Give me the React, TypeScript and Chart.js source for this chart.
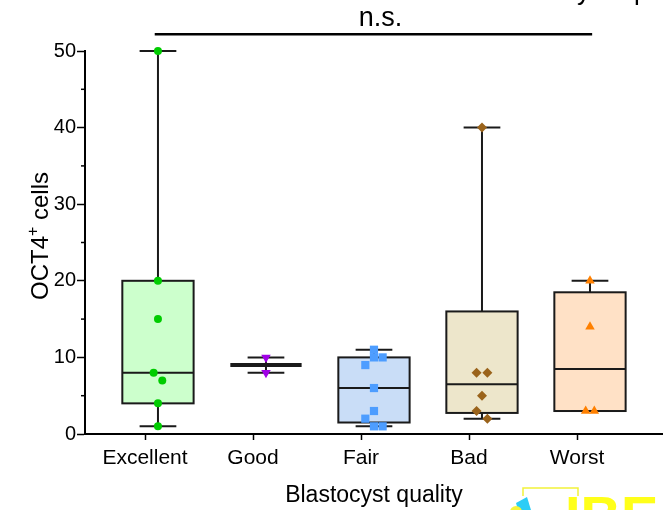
import React, { useEffect, useRef } from 'react';
import { Chart, registerables } from 'chart.js';

Chart.register(...registerables);

// ---------- data ----------
const categories = ['Excellent', 'Good', 'Fair', 'Bad', 'Worst'];

const excellentValues = [50, 20, 15, 8, 7, 4, 1];
const excellentJitter = [0, 0, 0, -0.04, 0.04, 0, 0];

const goodValues = [10, 8];
const goodJitter = [0, 0];

const fairValues = [11, 10, 10, 9, 6, 3, 2, 1, 1];
const fairJitter = [0, 0, 0.08, -0.08, 0, 0, -0.08, 0, 0.08];

const badValues = [40, 8, 8, 5, 3, 2];
const badJitter = [0, -0.05, 0.05, 0, -0.05, 0.05];

const worstValues = [20, 14, 3, 3];
const worstJitter = [0, 0, -0.04, 0.04];

const yTickValues = [0, 10, 20, 30, 40, 50];
const yMinorTickValues = [5, 15, 25, 35, 45];

const significanceLabel = 'n.s.';
const sigBarLevel = 52.2;
const sigTextLevel = 54.3;

// ---------- styling ----------
const FONT = "'Liberation Sans', Arial, sans-serif";
const BOX_OFFSET = 0.12;
const BOX_WIDTH = 0.66;
const CAP_WIDTH = 0.34;

const groups = [
  { values: excellentValues, jitter: excellentJitter, fill: '#ccffcc', color: '#00cc00', style: 'circle', radius: 4, rotation: 0 },
  { values: goodValues, jitter: goodJitter, fill: '#ffffff', color: '#a000e6', style: 'triangle', radius: 5.5, rotation: 180 },
  { values: fairValues, jitter: fairJitter, fill: '#c9ddf7', color: '#4d9dff', style: 'rect', radius: 5.8, rotation: 0 },
  { values: badValues, jitter: badJitter, fill: '#ede6cb', color: '#9a631b', style: 'rectRot', radius: 5, rotation: 0 },
  { values: worstValues, jitter: worstJitter, fill: '#ffe1c6', color: '#ff8000', style: 'triangle', radius: 5.5, rotation: 0 },
];

function quantile(sorted: number[], p: number) {
  const n = sorted.length;
  let pos = (n + 1) * p;
  if (pos < 1) pos = 1;
  if (pos > n) pos = n;
  const lo = Math.floor(pos);
  const frac = pos - lo;
  const a = sorted[lo - 1];
  const b = sorted[Math.min(lo, n - 1)];
  return a + frac * (b - a);
}

function stats(values: number[]) {
  const s = [...values].sort((a, b) => a - b);
  return {
    min: s[0],
    max: s[s.length - 1],
    q1: quantile(s, 0.25),
    median: quantile(s, 0.5),
    q3: quantile(s, 0.75),
    n: s.length,
  };
}

const boxPlugin = {
  id: 'boxPlot',
  beforeDatasetsDraw(chart: any) {
    const { ctx, scales } = chart;
    const x = scales.x;
    const y = scales.y;
    const unit = x.getPixelForValue(1) - x.getPixelForValue(0);
    ctx.save();
    ctx.strokeStyle = '#1a1a1a';
    ctx.lineCap = 'butt';
    groups.forEach((g, i) => {
      const st = stats(g.values);
      const cx = x.getPixelForValue(i + BOX_OFFSET);
      const hw = (BOX_WIDTH / 2) * unit;
      const cw = (CAP_WIDTH / 2) * unit;
      const yMin = y.getPixelForValue(st.min);
      const yMax = y.getPixelForValue(st.max);
      const yQ1 = y.getPixelForValue(st.q1);
      const yQ3 = y.getPixelForValue(st.q3);
      const yMed = y.getPixelForValue(st.median);
      ctx.lineWidth = 2;
      if (st.n >= 3) {
        ctx.fillStyle = g.fill;
        ctx.fillRect(cx - hw, yQ3, 2 * hw, yQ1 - yQ3);
        ctx.strokeRect(cx - hw, yQ3, 2 * hw, yQ1 - yQ3);
        ctx.beginPath();
        ctx.moveTo(cx, yQ3);
        ctx.lineTo(cx, yMax);
        ctx.moveTo(cx, yQ1);
        ctx.lineTo(cx, yMin);
        ctx.moveTo(cx - cw, yMax);
        ctx.lineTo(cx + cw, yMax);
        ctx.moveTo(cx - cw, yMin);
        ctx.lineTo(cx + cw, yMin);
        ctx.moveTo(cx - hw, yMed);
        ctx.lineTo(cx + hw, yMed);
        ctx.stroke();
      } else {
        ctx.beginPath();
        ctx.moveTo(cx, yMax);
        ctx.lineTo(cx, yMin);
        ctx.moveTo(cx - cw, yMax);
        ctx.lineTo(cx + cw, yMax);
        ctx.moveTo(cx - cw, yMin);
        ctx.lineTo(cx + cw, yMin);
        ctx.stroke();
        ctx.lineWidth = 4;
        ctx.beginPath();
        ctx.moveTo(cx - hw, yMed);
        ctx.lineTo(cx + hw, yMed);
        ctx.stroke();
      }
    });
    ctx.restore();
  },
  afterDraw(chart: any) {
    const { ctx, scales } = chart;
    const x = scales.x;
    const y = scales.y;
    ctx.save();
    // minor y ticks
    ctx.strokeStyle = '#000';
    ctx.lineWidth = 1.5;
    yMinorTickValues.forEach((v) => {
      const py = y.getPixelForValue(v);
      ctx.beginPath();
      ctx.moveTo(y.right - 4, py);
      ctx.lineTo(y.right, py);
      ctx.stroke();
    });
    // significance bar
    const barY = y.getPixelForValue(sigBarLevel);
    ctx.lineWidth = 2.5;
    ctx.beginPath();
    ctx.moveTo(x.getPixelForValue(0 + BOX_OFFSET - 0.03), barY);
    ctx.lineTo(x.getPixelForValue(4 + BOX_OFFSET + 0.02), barY);
    ctx.stroke();
    ctx.fillStyle = '#000';
    ctx.font = `27px ${FONT}`;
    ctx.textAlign = 'center';
    ctx.textBaseline = 'middle';
    ctx.fillText(significanceLabel, x.getPixelForValue(2 + BOX_OFFSET + 0.06), y.getPixelForValue(sigTextLevel));

    // clipped fragments of a title above the canvas
    ctx.textAlign = 'left';
    ctx.textBaseline = 'alphabetic';
    ctx.font = `26px ${FONT}`;
    ctx.fillText('y', 577, 0);
    ctx.fillText('p', 634, 0);

    // watermark fragment
    ctx.strokeStyle = '#f2f23a';
    ctx.lineWidth = 1.5;
    ctx.beginPath();
    ctx.moveTo(523, 496);
    ctx.lineTo(523, 488);
    ctx.lineTo(578, 488);
    ctx.lineTo(578, 496);
    ctx.stroke();
    ctx.fillStyle = '#2ccdf6';
    ctx.beginPath();
    ctx.moveTo(516, 503);
    ctx.lineTo(527, 497);
    ctx.lineTo(531, 510);
    ctx.lineTo(518, 510);
    ctx.closePath();
    ctx.fill();
    ctx.fillStyle = '#f5f53a';
    ctx.beginPath();
    ctx.arc(516, 512, 6, 0, Math.PI * 2);
    ctx.fill();
    ctx.fillStyle = '#ffff1a';
    ctx.font = `bold 56px ${FONT}`;
    ctx.fillText('IBE', 565, 535);

    ctx.fillStyle = '#000';
    // y-axis title with superscript
    const tx = 48;
    const ty = 236;
    ctx.translate(tx, ty);
    ctx.rotate(-Math.PI / 2);
    ctx.textBaseline = 'alphabetic';
    ctx.textAlign = 'left';
    const big = `24px ${FONT}`;
    const small = `16px ${FONT}`;
    ctx.font = big;
    const w1 = ctx.measureText('OCT4').width;
    const w3 = ctx.measureText(' cells').width;
    ctx.font = small;
    const w2 = ctx.measureText('+').width;
    const total = w1 + w2 + w3;
    let cur = -total / 2;
    ctx.font = big;
    ctx.fillText('OCT4', cur, 0);
    cur += w1;
    ctx.font = small;
    ctx.fillText('+', cur, -10);
    cur += w2;
    ctx.font = big;
    ctx.fillText(' cells', cur, 0);
    ctx.restore();
  },
};

export default function App() {
  const ref = useRef<HTMLCanvasElement | null>(null);

  useEffect(() => {
    document.body.style.margin = '0';
    const canvas = ref.current;
    if (!canvas) return;

    const datasets = groups.map((g, i) => ({
      type: 'scatter' as const,
      label: categories[i],
      data: g.values.map((v, j) => ({ x: i + BOX_OFFSET + g.jitter[j], y: v })),
      pointStyle: g.style,
      pointRadius: g.radius,
      pointRotation: g.rotation,
      pointBackgroundColor: g.color,
      pointBorderColor: g.color,
      pointBorderWidth: 0,
      clip: false as any,
    }));

    const chart = new Chart(canvas, {
      type: 'scatter',
      data: { datasets },
      options: {
        animation: false,
        responsive: false,
        devicePixelRatio: 1,
        layout: { autoPadding: false, padding: { top: 51, right: 0, left: 0, bottom: 0 } },
        plugins: {
          legend: { display: false },
          tooltip: { enabled: false },
          title: { display: false },
        },
        scales: {
          x: {
            type: 'linear',
            min: -0.5556,
            max: 4.796,
            afterBuildTicks: (s: any) => {
              s.ticks = categories.map((_, i) => ({ value: i }));
            },
            afterFit: (s: any) => {
              s.height = 76;
            },
            ticks: {
              autoSkip: false,
              maxRotation: 0,
              padding: 6,
              color: '#000',
              font: { family: FONT, size: 21 },
              callback: (v: any) => categories[v as number] ?? '',
            },
            grid: {
              drawOnChartArea: false,
              drawTicks: true,
              tickLength: 6,
              tickColor: '#000',
              tickWidth: 1.5,
            },
            border: { display: true, color: '#000', width: 2 },
            title: {
              display: true,
              text: 'Blastocyst quality',
              color: '#000',
              font: { family: FONT, size: 23 },
              padding: { top: 0, bottom: 1 },
            },
          },
          y: {
            type: 'linear',
            min: 0,
            max: 50,
            afterBuildTicks: (s: any) => {
              s.ticks = yTickValues.map((v) => ({ value: v }));
            },
            afterFit: (s: any) => {
              s.width = 85;
            },
            ticks: {
              padding: 1,
              color: '#000',
              font: { family: FONT, size: 20 },
            },
            grid: {
              drawOnChartArea: false,
              drawTicks: true,
              tickLength: 8,
              tickColor: '#000',
              tickWidth: 1.5,
            },
            border: { display: true, color: '#000', width: 2 },
          },
        },
      },
      plugins: [boxPlugin],
    });

    return () => chart.destroy();
  }, []);

  return (
    <div style={{ position: 'fixed', left: 0, top: 0, width: 663, height: 510, background: '#fff' }}>
      <canvas ref={ref} width={663} height={510} style={{ width: 663, height: 510 }} />
    </div>
  );
}
